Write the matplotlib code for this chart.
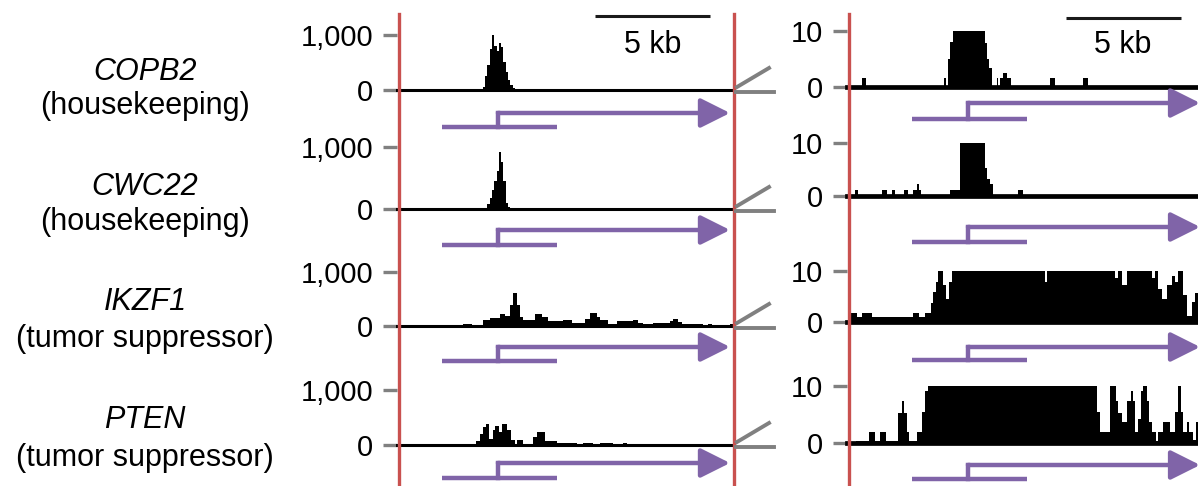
import matplotlib.pyplot as plt
from matplotlib.lines import Line2D

plt.rcParams['font.family'] = ['Liberation Sans', 'DejaVu Sans']

genes = ["COPB2", "CWC22", "IKZF1", "PTEN"]
gene_roles = ["(housekeeping)", "(housekeeping)", "(tumor suppressor)", "(tumor suppressor)"]

left_ticks = [0, 1000]
left_ticklabels = ["0", "1,000"]
right_ticks = [0, 10]
right_ticklabels = ["0", "10"]

# gene model, kb
utr_start, utr_end = 1.83, 6.83
tss, tx_end = 4.26, 14.35
scale_start, scale_end = 8.5, 13.5

# coverage, full scale (left panels): bin edges in kb, read counts
copb2_left_edges = [3.6, 3.7, 3.8, 3.9, 4.0, 4.1, 4.2, 4.3, 4.4, 4.5, 4.6, 4.7, 4.8, 4.9, 5.0]
copb2_left_cov = [60, 250, 450, 750, 1000, 800, 700, 850, 780, 500, 330, 180, 90, 30]

cwc22_left_edges = [3.8, 3.9, 4.0, 4.1, 4.2, 4.3, 4.4, 4.5, 4.6, 4.7, 4.8, 4.9]
cwc22_left_cov = [80, 170, 300, 450, 620, 920, 750, 450, 100, 40, 15]

ikzf1_left_edges = [2.74, 3.13, 3.61, 3.91, 4.35, 4.57, 4.78, 4.91, 5.09, 5.22, 5.35, 5.87,
                    6.17, 6.43, 7.09, 7.48, 8.04, 8.26, 8.57, 8.70, 9.04, 9.43, 10.13, 10.35,
                    10.57, 11.0, 11.74, 11.87, 12.09, 12.26, 13.04, 13.17, 13.39, 13.57, 14.35, 14.48]
ikzf1_left_cov = [45, 10, 115, 155, 230, 180, 380, 610, 380, 165, 115, 230, 165, 90, 105, 55,
                  135, 245, 165, 115, 45, 90, 115, 55, 45, 55, 90, 125, 75, 30, 45, 0, 45, 0, 45]

pten_left_edges = [3.30, 3.48, 3.61, 3.74, 3.87, 4.04, 4.13, 4.30, 4.43, 4.65, 4.83, 5.00, 5.09,
                   5.35, 5.78, 5.96, 6.30, 6.83, 7.70, 7.96, 8.39, 8.70, 9.26, 9.70, 9.87]
pten_left_cov = [80, 200, 325, 375, 110, 265, 345, 235, 385, 265, 90, 20, 90, 20, 140, 235,
                 80, 37, 0, 30, 10, 30, 0, 30]

# coverage, zoomed scale (right panels, capped at 10)
copb2_right_edges = [-0.36, -0.17, 3.22, 3.30, 3.40, 3.48, 3.62, 5.00, 5.07, 5.19, 5.29, 5.51,
                     5.58, 5.65, 5.80, 5.94, 6.12, 7.83, 8.04, 9.25, 9.49]
copb2_right_cov = [1.6, 0, 1.6, 0, 5.0, 8.0, 10, 7.8, 5.0, 3.4, 0, 1.6, 0, 1.6, 2.5, 1.6, 0, 1.6, 0, 1.6]

cwc22_right_edges = [-0.65, -0.52, 0.51, 0.72, 0.94, 1.09, 1.49, 1.67, 1.88, 2.03, 2.14, 2.22,
                     3.48, 3.91, 5.00, 5.07, 5.22, 5.33, 6.45, 6.64]
cwc22_right_cov = [1.2, 0, 1.2, 0, 1.2, 0, 1.2, 0, 1.2, 2.2, 1.2, 0, 1.2, 10, 5.3, 3.2, 2.2, 0, 1.2]

ikzf1_right_edges = [-0.90, -0.58, -0.36, 0.07, 1.88, 2.13, 2.39, 2.65, 2.75, 2.86, 2.94, 3.19,
                     3.29, 3.43, 3.55, 7.61, 7.68, 10.65, 10.77, 10.94, 11.16, 12.25, 12.39,
                     12.54, 12.68, 12.90, 13.12, 13.26, 13.41, 13.62, 13.77, 13.99, 14.13, 14.30]
ikzf1_right_cov = [1.8, 0.95, 1.8, 0.95, 1.8, 0.95, 1.8, 3.7, 5.9, 7.8, 10, 7.2, 4.6, 7.8, 10,
                   7.8, 10, 8.7, 10, 7.2, 10, 8.7, 10, 6.5, 4.6, 7.2, 9.0, 7.8, 10, 5.3, 1.1, 4.0, 5.6]

pten_right_edges = [-0.62, -0.04, 0.22, 0.43, 0.68, 1.23, 1.38, 1.49, 1.60, 1.70, 2.03, 2.27,
                    2.39, 2.51, 9.86, 10.00, 10.43, 10.68, 10.80, 10.94, 11.16, 11.35, 11.45,
                    11.52, 11.67, 11.78, 11.88, 12.03, 12.13, 12.25, 12.42, 12.54, 12.75, 13.04,
                    13.26, 13.38, 13.52, 13.62, 13.77, 13.87, 14.06, 14.16, 14.30]
pten_right_cov = [0.4, 2.0, 0.4, 2.0, 0.4, 5.2, 7.3, 5.2, 2.0, 0.4, 2.0, 5.5, 9.1, 10, 5.5, 2.0,
                  10, 7.3, 5.3, 3.6, 7.3, 9.1, 7.3, 2.0, 4.2, 9.1, 10, 7.3, 3.6, 2.0, 0.3, 2.0,
                  3.6, 2.0, 5.5, 10, 5.5, 2.0, 3.6, 2.0, 0.6, 3.6]

left_tracks = [(copb2_left_edges, copb2_left_cov), (cwc22_left_edges, cwc22_left_cov),
               (ikzf1_left_edges, ikzf1_left_cov), (pten_left_edges, pten_left_cov)]
right_tracks = [(copb2_right_edges, copb2_right_cov), (cwc22_right_edges, cwc22_right_cov),
                (ikzf1_right_edges, ikzf1_right_cov), (pten_right_edges, pten_right_cov)]

# layout in pixels
W, H = 1198, 486
RED = '#c9514f'
PURPLE = '#8064a8'
GRAY = '#808080'

fig = plt.figure(figsize=(W / 100, H / 100), dpi=100)


def px_axes(x0, x1, top, bottom):
    return fig.add_axes([x0 / W, 1 - bottom / H, (x1 - x0) / W, (bottom - top) / H])


def fig_line(xs, ys, **kw):
    fig.add_artist(Line2D([x / W for x in xs], [1 - y / H for y in ys],
                          transform=fig.transFigure, **kw))


panels = [
    dict(x=(397, 733), xlim=(-0.13, 14.48), ymax=1000, ticks=left_ticks, labels=left_ticklabels,
         tracks=left_tracks, base_lw=2.2,
         sig=[(35, 90), (147, 209), (272, 326), (390, 445)],
         gene=[(113, 127), (230, 245), (347, 361), (463, 478)], bar=(16, 45)),
    dict(x=(847, 1198), xlim=(-1.0, 14.26), ymax=10, ticks=right_ticks, labels=right_ticklabels,
         tracks=right_tracks, base_lw=3.4,
         sig=[(31, 87), (143, 196), (271, 322), (386, 443)],
         gene=[(103, 119), (227, 242), (347, 360), (465, 479)], bar=(18, 45)),
]

for p in panels:
    for i, ((edges, cov), (top, bot), (ya, yl)) in enumerate(zip(p['tracks'], p['sig'], p['gene'])):
        ax = px_axes(p['x'][0], p['x'][1], top, bot)
        ax.stairs(cov, edges, fill=True, color='black', lw=0.6)
        ax.axhline(0, color='black', lw=p['base_lw'], clip_on=False)
        ax.set_xlim(*p['xlim'])
        ax.set_ylim(0, p['ymax'])
        ax.set_xticks([])
        ax.set_yticks(p['ticks'])
        ax.set_yticklabels(p['labels'])
        ax.tick_params(axis='y', length=10, width=2.4, color=GRAY, pad=7, labelsize=21)
        for s in ax.spines.values():
            s.set_visible(False)
        ax.patch.set_alpha(0)

        if i == 0:
            tr = ax.get_xaxis_transform()
            h = bot - top
            ax.plot([scale_start, scale_end], [(bot - p['bar'][0]) / h] * 2, transform=tr,
                    color='#1a1a1a', lw=2.2, clip_on=False, solid_capstyle='butt')
            ax.text((scale_start + scale_end) / 2, (bot - p['bar'][1]) / h, "5 kb", transform=tr,
                    ha='center', va='center', fontsize=22)

        d = (yl - ya) / 2
        gx = px_axes(p['x'][0], p['x'][1], ya - d, yl + d)
        gx.set_xlim(*p['xlim'])
        gx.set_ylim(-0.5, 1.5)
        gx.axis('off')
        gx.plot([utr_start, utr_end], [0, 0], color=PURPLE, lw=3.2, solid_capstyle='butt')
        gx.plot([tss, tss], [0, 1], color=PURPLE, lw=3.2, solid_capstyle='projecting')
        gx.annotate("", xy=(tx_end, 1), xytext=(tss, 1), annotation_clip=False,
                    arrowprops=dict(arrowstyle="-|>,head_length=0.9,head_width=0.45",
                                    mutation_scale=20, lw=3.2, color=PURPLE,
                                    shrinkA=0, shrinkB=0))

# gene names
label_rows = [(72, 106), (187, 222), (302, 339), (420, 458)]
for g, role, (y1, y2) in zip(genes, gene_roles, label_rows):
    fig.text(145 / W, 1 - y1 / H, g, ha='center', va='center', fontsize=22, style='italic')
    fig.text(145 / W, 1 - y2 / H, role, ha='center', va='center', fontsize=22)

# red borders of the panels
for xr in [399, 734, 849]:
    fig_line([xr, xr], [14, H], color=RED, lw=2.4)

# axis-break marks
for yb in [90, 209, 326, 445]:
    fig_line([736, 774], [yb + 2, yb + 2], color=GRAY, lw=2.8)
    fig_line([737, 769], [yb - 3, yb - 22], color=GRAY, lw=2.8)

fig.savefig("out.png", dpi=100)
